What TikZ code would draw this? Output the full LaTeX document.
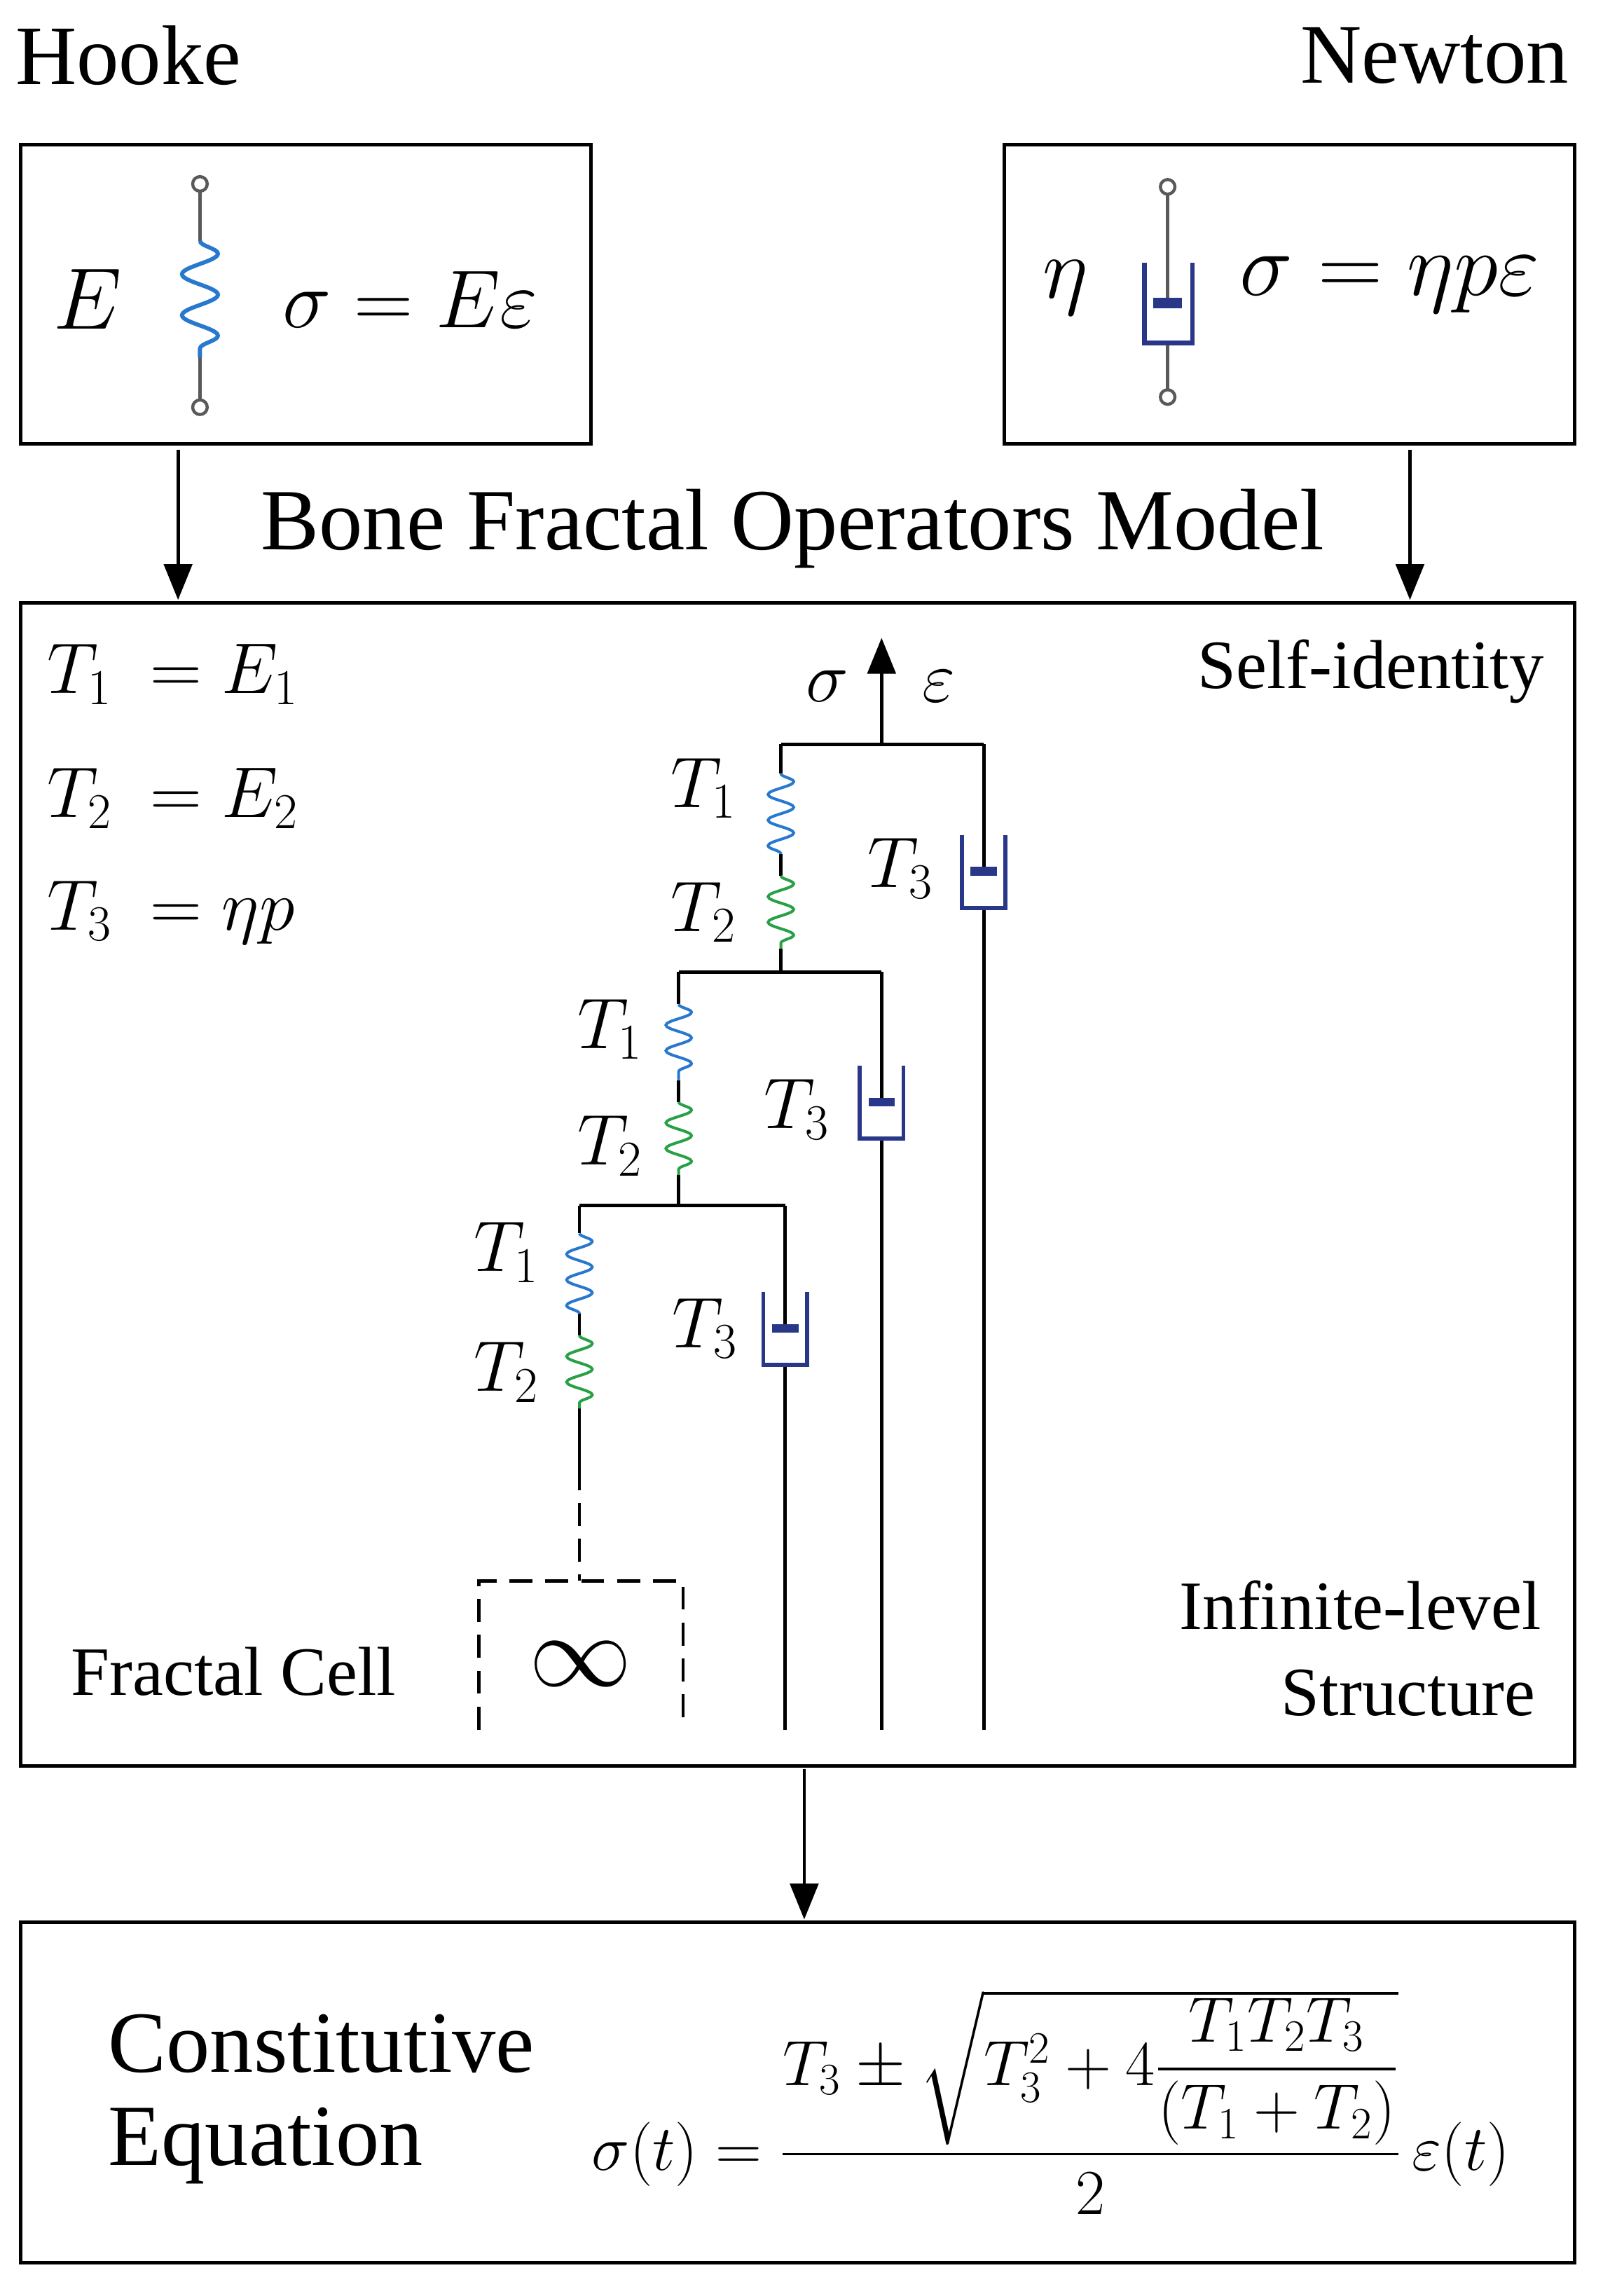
\RequirePackage{fix-cm}
\documentclass[tikz,border=0pt]{standalone}
\usepackage{amsmath}
\usepackage{fontspec}
\setmainfont{Liberation Serif}
\usetikzlibrary{arrows.meta,decorations.pathmorphing}
\definecolor{sb}{RGB}{40,120,205}
\definecolor{sg}{RGB}{40,160,70}
\definecolor{dp}{RGB}{40,55,135}
\tikzset{
 box/.style={draw,line width=1.4pt},
 arr/.style={line width=1.3pt,-{Triangle[length=14pt,width=11pt]}},
 ln/.style={line width=1.3pt},
 bspr/.style={sb,line width=1.1pt,decorate,decoration={snake,amplitude=5pt,segment length=10pt}},
 gspr/.style={sg,line width=1.1pt,decorate,decoration={snake,amplitude=5pt,segment length=10pt}},
 lab/.style={font=\fontsize{28}{34}\selectfont},
 txt/.style={font=\fontsize{33}{38}\selectfont},
 stxt/.style={font=\fontsize{27}{32}\selectfont},
}
\newcommand{\dpot}[3]{% x, top, bottom of cup
 \draw[dp,line width=1.6pt] (#1-15,#2)--(#1-15,#3)--(#1+15,#3)--(#1+15,#2);
 \fill[dp] (#1-9,{(#2+#3)/2-3}) rectangle (#1+9,{(#2+#3)/2+3});}
\begin{document}
\begin{tikzpicture}[x=0.02cm,y=-0.02cm]
\useasboundingbox (0,0) rectangle (1098,1573);
% headers
\node[txt] (hooke) at (88,38) {Hooke};
\node[txt] (newton) at (983,38) {Newton};
\node[box,minimum width=391*0.02cm,minimum height=205*0.02cm] (hb) at (209.5,201.5) {};
\node[box,minimum width=391*0.02cm,minimum height=205*0.02cm] (nb) at (883.5,201.5) {};
\node[font=\fontsize{34}{40}\selectfont] (E) at (60,205) {$E$};
\node[font=\fontsize{32}{40}\selectfont] (hooklaw) at (281,205) {$\sigma = E\varepsilon$};
\draw[gray!70!black,line width=1.2pt] (137,131)--(137,165) (137,245)--(137,274);
\draw[sb,line width=1.6pt,decorate,decoration={snake,amplitude=7pt,segment length=16pt}] (137,165)--(137,245);
\draw[gray!70!black,line width=1.2pt,fill=white] (137,126) circle (5) (137,279) circle (5);
\node[font=\fontsize{34}{40}\selectfont] (eta) at (730,197) {$\eta$};
\node[font=\fontsize{35}{40}\selectfont] (newtlaw) at (952,195) {$\sigma = \eta p\varepsilon$};
\draw[gray!70!black,line width=1.2pt] (800,133)--(800,207) (800,235)--(800,267);
\draw[dp,line width=1.8pt] (784,180)--(784,235)--(817,235)--(817,180);
\fill[dp] (790,204) rectangle (810,211);
\draw[gray!70!black,line width=1.2pt,fill=white] (800,128) circle (5) (800,272) circle (5);
\draw[arr] (122,308)--(122,411);
\draw[arr] (966,308)--(966,411);
\node[txt,font=\fontsize{34}{38}\selectfont] (title) at (543,362) {Bone Fractal Operators Model};
% main box
\node[box,minimum width=1065*0.02cm,minimum height=797*0.02cm] (mb) at (546.5,811.5) {};
\node[lab,anchor=west] (e1) at (26,462) {$T_1\ = E_1$};
\node[lab,anchor=west] (e2) at (26,547) {$T_2\ = E_2$};
\node[lab,anchor=west] (e3) at (26,625) {$T_3\ = \eta p$};
\node[stxt,anchor=east] (si) at (1064,460) {Self-identity};
% structure
\draw[arr] (604,510)--(604,437);
\node[lab] (sig) at (567,470) {$\sigma$};
\node[lab] (eps) at (643,470) {$\varepsilon$};
\draw[ln] (535,510)--(674,510);
% level 1
\draw[ln] (535,510)--(535,530) (535,585)--(535,600) (535,650)--(535,666);
\draw[bspr] (535,530)--(535,585);
\draw[gspr] (535,600)--(535,650);
\draw[ln] (674,510)--(674,597) (674,622)--(674,1185);
\dpot{674}{572}{622}
\draw[ln] (465,666)--(604,666);
% level 2
\draw[ln] (465,666)--(465,688) (465,740)--(465,755) (465,805)--(465,826);
\draw[bspr] (465,688)--(465,740);
\draw[gspr] (465,755)--(465,805);
\draw[ln] (604,666)--(604,755) (604,780)--(604,1185);
\dpot{604}{730}{780}
\draw[ln] (397,826)--(538,826);
% level 3
\draw[ln] (397,826)--(397,845) (397,900)--(397,915) (397,965)--(397,1005);
\draw[bspr] (397,845)--(397,900);
\draw[gspr] (397,915)--(397,965);
\draw[ln] (538,826)--(538,910) (538,935)--(538,1185);
\dpot{538}{885}{935}
\draw[ln,dashed,dash pattern=on 9pt off 5pt] (397,1005)--(397,1083);
\draw[ln,dashed,dash pattern=on 9pt off 5pt] (328,1185)--(328,1083)--(468,1083)--(468,1185);
\node[font=\fontsize{40}{46}\selectfont] (inf) at (398,1140) {$\infty$};
\node[lab] at (482,540) {$T_1$}; \node[lab] at (482,625) {$T_2$}; \node[lab] at (617,595) {$T_3$};
\node[lab] at (418,705) {$T_1$}; \node[lab] at (418,785) {$T_2$}; \node[lab] at (546,760) {$T_3$};
\node[lab] at (347,858) {$T_1$}; \node[lab] at (347,940) {$T_2$}; \node[lab] at (483,910) {$T_3$};
\node[stxt] (fc) at (160,1145) {Fractal Cell};
\node[stxt,anchor=east] (il) at (1062,1100) {Infinite-level};
\node[stxt,anchor=east] (st) at (1058,1160) {Structure};
\draw[arr] (551,1212)--(551,1315);
% bottom box
\node[box,minimum width=1065*0.02cm,minimum height=233*0.02cm] (bb) at (546.5,1433.5) {};
\node[font=\fontsize{34}{38}\selectfont,anchor=west] (c1) at (68,1400) {Constitutive};
\node[font=\fontsize{34}{38}\selectfont,anchor=west] (c2) at (68,1470) {Equation};
\node[font=\fontsize{25}{30}\selectfont] (eq) at (720,1440) {$\sigma(t) = \dfrac{T_3 \pm \sqrt{T_3^2 + 4\dfrac{T_1T_2T_3}{(T_1+T_2)}}}{2}\,\varepsilon(t)$};
\end{tikzpicture}
\end{document}
